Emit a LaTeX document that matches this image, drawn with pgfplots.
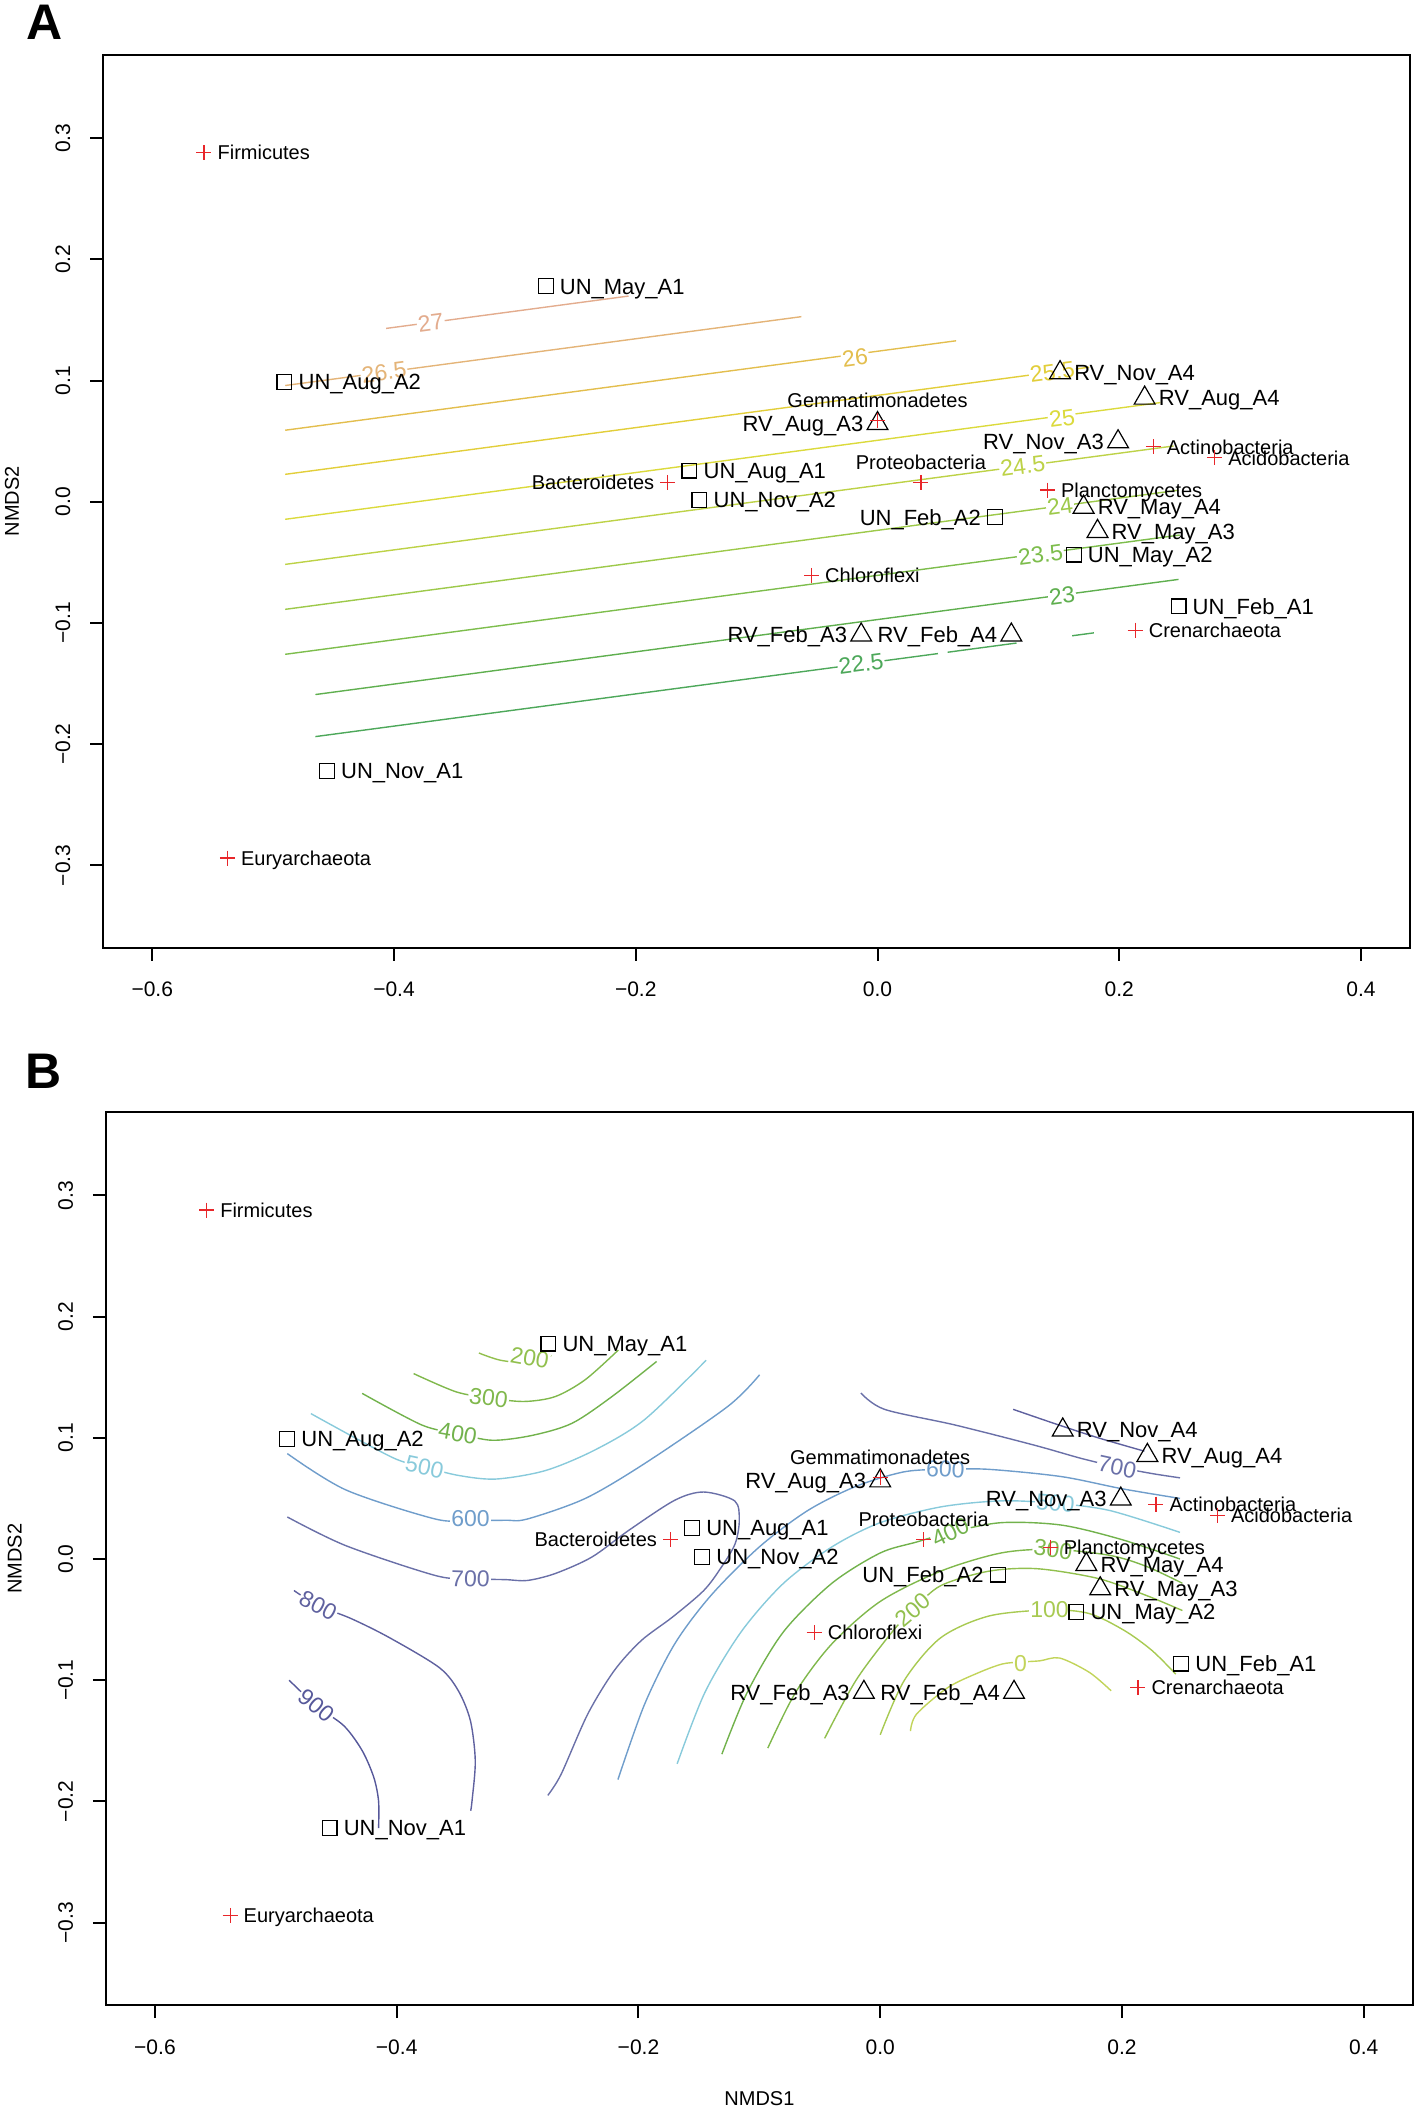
\documentclass[border=0pt]{standalone}
\usepackage{fontspec}
\setmainfont{Liberation Sans}
\usepackage{pgfplots}
\pgfplotsset{compat=1.18}
\usepackage{pgfplotstable}

% contour colours, panel A (temperature-like) and panel B
\definecolor{cA225}{HTML}{4DA85A}
\definecolor{cA23}{HTML}{5FAF4F}
\definecolor{cA235}{HTML}{7DBD4C}
\definecolor{cA24}{HTML}{9DC94A}
\definecolor{cA245}{HTML}{BDD247}
\definecolor{cA25}{HTML}{DBDA3C}
\definecolor{cA255}{HTML}{E2CE3A}
\definecolor{cA26}{HTML}{E3BE4E}
\definecolor{cA265}{HTML}{E4B478}
\definecolor{cA27}{HTML}{E3AC8E}
\definecolor{cB0}{HTML}{C2D45A}
\definecolor{cB100}{HTML}{A8CA52}
\definecolor{cB200}{HTML}{92C04E}
\definecolor{cB300}{HTML}{80B84C}
\definecolor{cB400}{HTML}{72B24C}
\definecolor{cB500}{HTML}{88CADB}
\definecolor{cB600}{HTML}{6F9DCB}
\definecolor{cB700}{HTML}{6A70A8}
\definecolor{cB800}{HTML}{5F619F}
\definecolor{cB900}{HTML}{56589A}
\definecolor{taxred}{HTML}{E8262A}

\newcommand\slab{\fontsize{11}{13}\selectfont}
\newcommand\tlab{\fontsize{10}{12}\selectfont}
\newcommand\clabfont{\fontsize{11.5}{13}\selectfont}

% sites (squares = UN, triangles = RV)
\pgfplotstableread{
x y label
-0.2745 0.1778 UN\_May\_A1
-0.4906 0.0990 UN\_Aug\_A2
-0.1556 0.0256 UN\_Aug\_A1
-0.1473 0.0016 UN\_Nov\_A2
0.1623 -0.0437 UN\_May\_A2
0.2490 -0.0863 UN\_Feb\_A1
-0.4555 -0.2220 UN\_Nov\_A1
}\unR
\pgfplotstableread{
x y label
0.0972 -0.0128 UN\_Feb\_A2
}\unL
\pgfplotstableread{
x y label
0.1510 0.1065 RV\_Nov\_A4
0.2210 0.0855 RV\_Aug\_A4
0.1705 -0.0045 RV\_May\_A4
0.1820 -0.0245 RV\_May\_A3
}\rvR
\pgfplotstableread{
x y label
0.0000 0.0645 RV\_Aug\_A3
0.1990 0.0495 RV\_Nov\_A3
-0.0135 -0.1100 RV\_Feb\_A3
0.1107 -0.1100 RV\_Feb\_A4
}\rvL
% taxa
\pgfplotstableread{
x y label
-0.5572 0.2880 Firmicutes
0.2281 0.0453 Actinobacteria
0.2790 0.0362 Acidobacteria
0.1406 0.0096 Planctomycetes
-0.0546 -0.0607 Chloroflexi
0.2132 -0.1060 Crenarchaeota
-0.5378 -0.2940 Euryarchaeota
}\taxR
\pgfplotstableread{
x y label
-0.1735 0.0160 Bacteroidetes
}\taxL
\pgfplotstableread{
x y label
0.0000 0.0670 Gemmatimonadetes
0.0359 0.0160 Proteobacteria
}\taxU

\pgfplotsset{
  nmds/.style={
    scale only axis, width=653.4pt, height=446.35pt,
    xmin=-0.6405, xmax=0.4406, ymin=-0.368, ymax=0.3686,
    clip=false,
    axis line style={line width=1pt},
    tick style={line width=1pt, black},
    tick align=outside, major tick length=6.5pt,
    xtick pos=bottom, ytick pos=left,
    xtick={-0.6,-0.4,-0.2,0,0.2,0.4},
    xticklabels={−0.6,−0.4,−0.2,0.0,0.2,0.4},
    ytick={-0.3,-0.2,-0.1,0,0.1,0.2,0.3},
    yticklabels={−0.3,−0.2,−0.1,0.0,0.1,0.2,0.3},
    ticklabel style={font=\fontsize{10.5}{12}\selectfont, inner sep=0pt},
    xticklabel style={anchor=north}, xticklabel shift=10.5pt,
    yticklabel style={rotate=90, anchor=south}, yticklabel shift=9.75pt,
    every axis y label/.style={at={(axis description cs:-0.0698,0.5)}, rotate=90, anchor=center, font=\fontsize{10}{12}\selectfont},
    every axis x label/.style={at={(axis description cs:0.5,-0.1053)}, anchor=center, font=\fontsize{10}{12}\selectfont},
    ylabel={NMDS2},
  },
  ctr/.style={line width=0.7pt, #1},
  bctr/.style={line width=0.7pt, smooth, tension=0.5, #1},
}

% contour label: x, y, angle, text, colour
\newcommand\clab[5]{%
  \addplot[draw=none, nodes near coords={#4},
    every node near coord/.append style={anchor=center, rotate=#3, text=#5, fill=white, inner sep=0.6pt, font=\clabfont}]
    coordinates {(#1,#2)};}

\newcommand\drawpoints{%
  \addplot[only marks, mark=square, mark size=3.7pt, mark options={line width=0.6pt, black},
    nodes near coords, point meta=explicit symbolic,
    every node near coord/.append style={anchor=base west, xshift=6.8pt, yshift=-3.9pt, text=black, inner sep=0pt, font=\slab}]
    table[meta=label] {\unR};
  \addplot[only marks, mark=square, mark size=3.7pt, mark options={line width=0.6pt, black},
    nodes near coords, point meta=explicit symbolic,
    every node near coord/.append style={anchor=base east, xshift=-6.8pt, yshift=-3.9pt, text=black, inner sep=0pt, font=\slab}]
    table[meta=label] {\unL};
  \addplot[only marks, mark=triangle, mark size=6pt, mark options={line width=0.6pt, black},
    nodes near coords, point meta=explicit symbolic,
    every node near coord/.append style={anchor=base west, xshift=6.8pt, yshift=-3.9pt, text=black, inner sep=0pt, font=\slab}]
    table[meta=label] {\rvR};
  \addplot[only marks, mark=triangle, mark size=6pt, mark options={line width=0.6pt, black},
    nodes near coords, point meta=explicit symbolic,
    every node near coord/.append style={anchor=base east, xshift=-6.8pt, yshift=-3.9pt, text=black, inner sep=0pt, font=\slab}]
    table[meta=label] {\rvL};
  \addplot[only marks, mark=+, mark size=3.75pt, mark options={line width=0.6pt, taxred},
    nodes near coords, point meta=explicit symbolic,
    every node near coord/.append style={anchor=base west, xshift=6.5pt, yshift=-3.6pt, text=black, inner sep=0pt, font=\tlab}]
    table[meta=label] {\taxR};
  \addplot[only marks, mark=+, mark size=3.75pt, mark options={line width=0.6pt, taxred},
    nodes near coords, point meta=explicit symbolic,
    every node near coord/.append style={anchor=base east, xshift=-6.5pt, yshift=-3.6pt, text=black, inner sep=0pt, font=\tlab}]
    table[meta=label] {\taxL};
  \addplot[only marks, mark=+, mark size=3.75pt, mark options={line width=0.6pt, taxred},
    nodes near coords, point meta=explicit symbolic,
    every node near coord/.append style={anchor=base, yshift=6.5pt, text=black, inner sep=0pt, font=\tlab}]
    table[meta=label] {\taxU};
}

\begin{document}
\begin{tikzpicture}
\useasboundingbox (0,0) rectangle (709pt,-1055pt);
\node[font=\bfseries\fontsize{25}{30}\selectfont] at (22.25pt,-11pt) {A};
\node[font=\bfseries\fontsize{25}{30}\selectfont] at (22pt,-535.5pt) {B};

% ---------------- panel A ----------------
\begin{axis}[nmds, at={(51.65pt,-473.85pt)}, anchor=south west]
\addplot[ctr=cA27]  coordinates {(-0.4065,0.1430) (-0.206,0.1697)};
\addplot[ctr=cA265] coordinates {(-0.490,0.0959) (-0.063,0.1527)};
\addplot[ctr=cA26]  coordinates {(-0.490,0.0590) (0.065,0.1328)};
\addplot[ctr=cA255] coordinates {(-0.490,0.0226) (0.175,0.1110)};
\addplot[ctr=cA25]  coordinates {(-0.490,-0.0145) (0.234,0.0818)};
\addplot[ctr=cA245] coordinates {(-0.490,-0.0517) (0.245,0.0460)};
\addplot[ctr=cA24]  coordinates {(-0.490,-0.0888) (0.249,0.0095)};
\addplot[ctr=cA235] coordinates {(-0.490,-0.1259) (0.250,-0.0275)};
\addplot[ctr=cA23]  coordinates {(-0.465,-0.1591) (0.249,-0.0641)};
\addplot[ctr=cA225] coordinates {(-0.465,-0.1938) (0.050,-0.1253)};
\addplot[ctr=cA225] coordinates {(0.058,-0.1242) (0.115,-0.1166)};
\addplot[ctr=cA225] coordinates {(0.161,-0.1106) (0.179,-0.1082)};
\clab{-0.3696}{0.1479}{7.6}{27}{cA27}
\clab{-0.4083}{0.1067}{7.6}{26.5}{cA265}
\clab{-0.0186}{0.1186}{7.6}{26}{cA26}
\clab{0.1446}{0.1071}{7.6}{25.5}{cA255}
\clab{0.1526}{0.0688}{7.6}{25}{cA25}
\clab{0.1201}{0.0294}{7.6}{24.5}{cA245}
\clab{0.1510}{-0.0036}{7.6}{24}{cA24}
\clab{0.1348}{-0.0437}{7.6}{23.5}{cA235}
\clab{0.1526}{-0.0774}{7.6}{23}{cA23}
\clab{-0.0136}{-0.1337}{7.6}{22.5}{cA225}
\drawpoints
\end{axis}

% ---------------- panel B ----------------
\begin{axis}[nmds, at={(53pt,-1002.5pt)}, anchor=south west, xlabel={NMDS1}]
% left basin
\addplot[bctr=cB200] coordinates {(-0.332,0.170) (-0.314,0.164) (-0.290,0.162) (-0.272,0.168)};
\addplot[bctr=cB300] coordinates {(-0.386,0.153) (-0.351,0.138) (-0.324,0.133) (-0.295,0.130) (-0.269,0.134) (-0.244,0.148) (-0.2166,0.1725)};
\addplot[bctr=cB400] coordinates {(-0.4286,0.1367) (-0.379,0.1105) (-0.3495,0.1036) (-0.321,0.098) (-0.288,0.102) (-0.255,0.112) (-0.222,0.134) (-0.185,0.163)};
\addplot[bctr=cB500] coordinates {(-0.471,0.120) (-0.404,0.084) (-0.377,0.076) (-0.349,0.069) (-0.318,0.066) (-0.277,0.073) (-0.236,0.090) (-0.195,0.115) (-0.144,0.164)};
\addplot[bctr=cB600] coordinates {(-0.4905,0.087) (-0.442,0.057) (-0.368,0.033) (-0.339,0.032) (-0.310,0.032) (-0.292,0.033) (-0.244,0.050) (-0.1946,0.079) (-0.126,0.126) (-0.0998,0.152)};
\addplot[bctr=cB700] coordinates {(-0.4905,0.0347) (-0.442,0.011) (-0.368,-0.0136) (-0.339,-0.0163) (-0.310,-0.017) (-0.292,-0.0177) (-0.269,-0.012) (-0.2386,0.0016) (-0.208,0.0237) (-0.170,0.0485) (-0.146,0.0553) (-0.1203,0.0479) (-0.1166,0.0319) (-0.120,0.0127) (-0.1314,-0.0067) (-0.146,-0.026) (-0.172,-0.048) (-0.1977,-0.0673) (-0.220,-0.092) (-0.242,-0.128) (-0.264,-0.1776) (-0.275,-0.195)};
\addplot[bctr=cB800] coordinates {(-0.485,-0.026) (-0.465,-0.0384) (-0.438,-0.049) (-0.4065,-0.0646) (-0.365,-0.0894) (-0.349,-0.1087) (-0.339,-0.1335) (-0.335,-0.1666) (-0.3377,-0.1997) (-0.3388,-0.2077)};
\addplot[bctr=cB900] coordinates {(-0.489,-0.100) (-0.4666,-0.121) (-0.4437,-0.1376) (-0.4286,-0.158) (-0.419,-0.180) (-0.415,-0.1997) (-0.415,-0.222)};
% right dome
\addplot[bctr=cB600] coordinates {(-0.217,-0.182) (-0.195,-0.120) (-0.170,-0.070) (-0.140,-0.030) (-0.100,0.010) (-0.060,0.040) (-0.020,0.060) (0.020,0.072) (0.054,0.074) (0.090,0.074) (0.150,0.068) (0.200,0.058) (0.248,0.050)};
\addplot[bctr=cB500] coordinates {(-0.168,-0.169) (-0.145,-0.110) (-0.115,-0.060) (-0.080,-0.020) (-0.040,0.010) (0.000,0.030) (0.050,0.043) (0.100,0.048) (0.145,0.046) (0.190,0.040) (0.248,0.022)};
\addplot[bctr=cB400] coordinates {(-0.131,-0.161) (-0.110,-0.110) (-0.080,-0.060) (-0.040,-0.020) (0.000,0.005) (0.030,0.014) (0.058,0.022) (0.100,0.030) (0.150,0.028) (0.200,0.016) (0.248,0.000)};
\addplot[bctr=cB300] coordinates {(-0.093,-0.156) (-0.070,-0.110) (-0.040,-0.070) (0.000,-0.035) (0.050,-0.010) (0.100,0.005) (0.143,0.008) (0.190,0.003) (0.220,-0.006) (0.250,-0.020)};
\addplot[bctr=cB200] coordinates {(-0.046,-0.148) (-0.020,-0.100) (0.010,-0.060) (0.027,-0.042) (0.050,-0.022) (0.090,-0.010) (0.130,-0.008) (0.180,-0.016) (0.220,-0.030) (0.250,-0.0425)};
\addplot[bctr=cB100] coordinates {(0.000,-0.145) (0.020,-0.100) (0.050,-0.065) (0.090,-0.047) (0.140,-0.042) (0.173,-0.045) (0.202,-0.059) (0.225,-0.0756) (0.2445,-0.095)};
\addplot[bctr=cB0] coordinates {(0.025,-0.142) (0.030,-0.128) (0.056,-0.106) (0.082,-0.0935) (0.101,-0.0866) (0.116,-0.0850) (0.132,-0.084) (0.1485,-0.0817) (0.173,-0.0935) (0.191,-0.1087)};
\addplot[bctr=cB700] coordinates {(-0.016,0.137) (0.0036,0.1235) (0.0623,0.1105) (0.1273,0.094) (0.1664,0.083) (0.196,0.076) (0.225,0.0705) (0.248,0.067)};
\addplot[bctr=cB800] coordinates {(0.110,0.1235) (0.1436,0.112) (0.1794,0.1003) (0.2185,0.089)};
\clab{-0.290}{0.166}{-10}{200}{cB200}
\clab{-0.324}{0.133}{-8}{300}{cB300}
\clab{-0.3495}{0.1036}{-10}{400}{cB400}
\clab{-0.377}{0.076}{-12}{500}{cB500}
\clab{-0.339}{0.033}{0}{600}{cB600}
\clab{-0.339}{-0.0163}{-2}{700}{cB700}
\clab{-0.465}{-0.0384}{-28}{800}{cB800}
\clab{-0.4666}{-0.121}{-40}{900}{cB900}
\clab{0.054}{0.074}{-3}{600}{cB600}
\clab{0.145}{0.046}{-5}{500}{cB500}
\clab{0.058}{0.022}{25}{400}{cB400}
\clab{0.143}{0.008}{-8}{300}{cB300}
\clab{0.027}{-0.042}{40}{200}{cB200}
\clab{0.140}{-0.042}{0}{100}{cB100}
\clab{0.116}{-0.086}{0}{0}{cB0}
\clab{0.196}{0.076}{-12}{700}{cB700}
\drawpoints
\end{axis}
\end{tikzpicture}
\end{document}
